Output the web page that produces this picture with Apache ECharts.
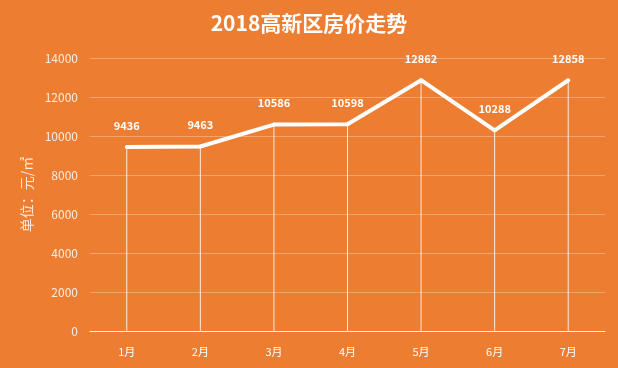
<!DOCTYPE html>
<html><head><meta charset="utf-8">
<script src="https://cdn.jsdelivr.net/npm/echarts@6/dist/echarts.min.js"></script>
<style>html,body{margin:0;padding:0;background:#ED7D31}#c{width:618px;height:368px}</style>
</head><body><div id="c"></div>
<script>
var categories = ['1月','2月','3月','4月','5月','6月','7月'];
var prices = [9436, 9463, 10586, 10598, 12862, 10288, 12858];
var yTicks = [0, 2000, 4000, 6000, 8000, 10000, 12000, 14000];
var titleText = '2018高新区房价走势';
var yName = '单位：元/㎡';
var font = '"Noto Sans CJK SC", "Noto Sans", sans-serif';
var chart = echarts.init(document.getElementById('c'));
chart.setOption({
  backgroundColor: '#ED7D31',
  animation: false,
  textStyle: {fontFamily: font},
  title: {text: titleText, left: 'center', top: 8,
    textStyle: {color: '#fff', fontSize: 21, fontWeight: 'bold', fontFamily: font}},
  grid: {left: 90, right: 13, top: 58, bottom: 37},
  xAxis: {type: 'category', data: categories, boundaryGap: true,
    axisLine: {lineStyle: {color: 'rgba(255,255,255,0.9)', width: 1}},
    axisTick: {show: false},
    axisLabel: {color: '#fff', fontSize: 11, margin: 15, fontFamily: font}},
  yAxis: {type: 'value', min: yTicks[0], max: yTicks[yTicks.length-1], interval: 2000,
    name: yName, nameLocation: 'middle', nameGap: 55, nameRotate: 90,
    nameTextStyle: {color: 'rgba(255,255,255,0.85)', fontSize: 14, fontFamily: font},
    axisLine: {show: false}, axisTick: {show: false},
    axisLabel: {color: 'rgba(255,255,255,0.85)', fontSize: 12, margin: 12, fontFamily: font,
      formatter: function (v) { return String(v); }},
    splitLine: {lineStyle: {color: 'rgba(255,255,255,0.3)', width: 1}}},
  series: [
    {type: 'bar', data: prices, barWidth: 1, silent: true,
      itemStyle: {color: 'rgba(255,255,255,0.85)'}, z: 1},
    {type: 'line', data: prices, symbol: 'circle', symbolSize: 4, z: 3,
      lineStyle: {color: '#fff', width: 4},
      itemStyle: {color: '#fff'},
      label: {show: true, position: 'top', distance: 14, color: '#fff',
        fontSize: 11, fontWeight: 'bold', fontFamily: font}}
  ]
});
</script></body></html>
